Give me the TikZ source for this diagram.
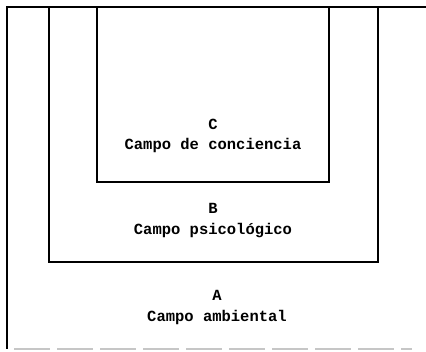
\documentclass[tikz,border=0pt]{standalone}
\usepackage{fontspec}
\setmonofont{Liberation Mono}
\tikzset{
  frame/.style={line width=1.6pt, line join=miter},
  faint/.style={line width=1.2pt, gray!45, dash pattern=on 36pt off 7pt},
  lbl/.style={font=\ttfamily\bfseries\fontsize{15.5}{18}\selectfont, inner sep=0pt, anchor=center}
}
\begin{document}
\begin{tikzpicture}[x=1pt,y=-1pt]
\useasboundingbox (0,0) rectangle (426,351);
% outer field A
\draw[frame] (426,7) -- (7,7) -- (7,349);
\draw[faint] (14,349) -- (412,349);
% field B
\draw[frame] (49,7) -- (49,262) -- (378,262) -- (378,7);
% field C
\draw[frame] (97,7) -- (97,182) -- (329,182) -- (329,7);
% labels
\node[lbl] (cL) at (213,124) {C};
\node[lbl] (cT) at (213,145) {Campo de conciencia};
\node[lbl] (bL) at (213,208) {B};
\node[lbl] (bT) at (213,231) {Campo psicológico};
\node[lbl] (aL) at (217,295) {A};
\node[lbl] (aT) at (217,317) {Campo ambiental};
\end{tikzpicture}
\end{document}
